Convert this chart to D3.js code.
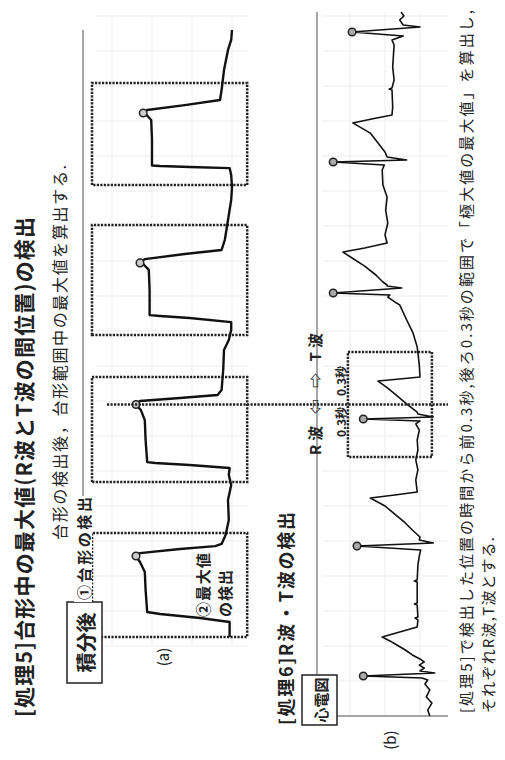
<!DOCTYPE html>
<html>
<head>
<meta charset="utf-8">
<script src="https://cdn.jsdelivr.net/npm/d3@7"></script>
<style>
  body { margin: 0; background: #fff; }
  svg { display: block; }
  text { font-family: "Noto Sans CJK JP", "Noto Sans", sans-serif; fill: #222; }
</style>
</head>
<body>
<svg id="fig" width="505" height="760"></svg>
<script>
// integrated signal (a): [time s, value]
const integData = [
  [0.451,0.03],[0.537,0.03],[0.560,0.40],[0.583,0.90],[0.594,1.06],[0.720,1.08],[0.823,1.09],[0.880,1.15],
  [0.914,1.20],[0.931,1.15],[0.954,0.65],[0.971,0.21],[0.983,0.13],[1.034,0.08],[1.120,0.04],[1.234,0.05],
  [1.320,0.01],[1.377,0.04],[1.417,0.03],[1.434,0.53],[1.446,0.96],[1.451,1.06],[1.577,1.08],[1.691,1.09],
  [1.749,1.14],[1.780,1.20],[1.800,1.15],[1.817,0.65],[1.834,0.18],[1.863,0.13],[1.977,0.11],[2.091,0.10],
  [2.149,0.04],[2.206,0.01],[2.251,0.01],[2.274,0.53],[2.286,0.90],[2.291,1.03],[2.434,1.03],[2.549,1.04],
  [2.583,1.11],[2.589,1.15],[2.611,1.09],[2.640,0.59],[2.663,0.13],[2.720,0.09],[2.834,0.05],[2.949,0.01],
  [3.023,0.00],[3.091,0.01],[3.131,0.03],[3.137,0.53],[3.143,0.90],[3.146,1.00],[3.291,1.00],[3.406,1.01],
  [3.440,1.08],[3.446,1.11],[3.463,1.06],[3.491,0.59],[3.520,0.15],[3.577,0.13],[3.691,0.10],[3.806,0.05],
  [3.863,0.01],[3.920,0.00]
];
const integPeaks = [[0.914,1.20],[1.780,1.20],[2.589,1.15],[3.446,1.11]];
const trapRanges = [[0.451,1.046],[1.337,1.937],[2.177,2.806],[3.034,3.617]];
const trapValueRange = [-0.19, 1.75];

// ECG (b): [time s, mV]
const ecgData = [
  [0.000,-0.14],[0.034,-0.11],[0.074,-0.17],[0.109,-0.09],[0.149,-0.14],[0.183,-0.07],[0.206,-0.11],[0.217,-0.03],
  [0.229,0.81],[0.246,-0.21],[0.257,0.00],
  [0.274,-0.06],[0.291,0.01],[0.309,-0.06],[0.326,0.00],
  [0.349,0.11],[0.377,0.21],[0.406,0.33],[0.429,0.43],[0.451,0.54],[0.480,0.29],[0.509,0.04],
  [0.549,0.03],[0.560,0.07],[0.566,0.03],[0.634,0.04],[0.640,0.08],[0.646,0.04],[0.766,0.04],[0.772,0.08],
  [0.778,0.04],[0.863,0.03],[0.914,0.01],[0.949,-0.01],
  [0.971,0.90],[0.989,-0.19],[1.006,0.01],
  [1.023,0.00],[1.063,0.11],[1.103,0.21],[1.154,0.36],[1.200,0.50],[1.246,0.71],[1.263,0.36],[1.280,0.04],
  [1.349,0.06],[1.406,0.03],[1.463,0.06],[1.520,0.03],[1.577,0.04],[1.634,0.01],[1.669,0.06],[1.686,0.00],
  [1.697,0.81],[1.709,-0.19],[1.726,0.03],
  [1.737,0.04],[1.777,0.17],[1.823,0.31],[1.874,0.46],[1.914,0.60],[1.926,0.29],[1.937,0.00],
  [2.006,0.01],[2.109,0.04],[2.189,0.10],[2.263,0.19],[2.349,0.29],[2.366,0.36],[2.394,0.46],[2.406,0.43],
  [2.417,1.24],[2.446,0.26],[2.457,0.47],
  [2.463,0.47],[2.480,0.53],[2.520,0.63],[2.571,0.79],[2.617,0.97],[2.651,1.10],[2.674,0.79],[2.703,0.47],
  [2.749,0.50],[2.817,0.46],[2.891,0.49],[2.966,0.47],[3.034,0.53],[3.120,0.54],[3.149,0.51],
  [3.166,1.24],[3.177,0.19],[3.194,0.47],
  [3.223,0.50],[3.274,0.60],[3.331,0.71],[3.389,0.96],[3.411,0.69],[3.434,0.40],
  [3.480,0.39],[3.577,0.40],[3.583,0.44],[3.589,0.40],[3.634,0.37],[3.709,0.39],[3.834,0.37],[3.863,0.40],[3.886,0.24],
  [3.909,0.97],[3.937,0.00],[3.949,0.24],
  [3.977,0.29],[4.000,0.23],[4.023,0.27]
];
const rPeaks = [[0.229,0.81],[0.971,0.90],[1.697,0.81],[2.417,1.24],[3.166,1.24],[3.909,0.97]];
const detectTime = 1.78;   // peak of the 2nd trapezoid used for R/T search
const windowSec = 0.3;
const ecgBoxValues = [-0.17, 1.03];

// texts
const titleText = "[処理5]台形中の最大値(R波とT波の間位置)の検出";
const subText = "台形の検出後，台形範囲中の最大値を算出する.";
const title2Text = "[処理6]R波・T波の検出";
const noteLines = ["[処理5]で検出した位置の時間から前0.3秒,後ろ0.3秒の範囲で「極大値の最大値」を算出し,",
                   "それぞれR波,T波とする."];

// layout is drawn unrotated (760 wide, 505 tall) and turned 90deg
const fig = d3.select("#fig");
const root = fig.append("g").attr("transform", "translate(0,760) rotate(-90)");

const xScale = d3.scaleLinear().domain([0, 4]).range([44, 744]);
const yA = d3.scaleLinear().domain([-0.2, 1.8]).range([248, 88]);
const yB = d3.scaleLinear().domain([-0.4, 1.4]).range([448, 322]);

function label(str, u, v, size, weight, len, anchor) {
    let t = root.append("text")
        .attr("x", u).attr("y", v)
        .attr("dominant-baseline", "central")
        .attr("font-size", size)
        .attr("font-weight", weight)
        .attr("text-anchor", anchor || "start")
        .text(str);
    if (len) t.attr("textLength", len).attr("lengthAdjust", "spacing");
    return t;
}

// faint grids
let grid = root.append("g").attr("stroke", "#ededed").attr("stroke-width", 1);
xScale.ticks(20).filter(t => t >= 0.4).forEach(t => {
    grid.append("line").attr("x1", xScale(t)).attr("x2", xScale(t)).attr("y1", yA(1.7)).attr("y2", yA(-0.2));
});
xScale.ticks(20).filter(t => t > 0).forEach(t => {
    grid.append("line").attr("x1", xScale(t)).attr("x2", xScale(t)).attr("y1", yB(1.4)).attr("y2", yB(-0.4));
});
yA.ticks(5).forEach(v => {
    grid.append("line").attr("x1", xScale(0.4)).attr("x2", xScale(4)).attr("y1", yA(v)).attr("y2", yA(v));
});
yB.ticks(4).forEach(v => {
    grid.append("line").attr("x1", xScale(0)).attr("x2", xScale(4.02)).attr("y1", yB(v)).attr("y2", yB(v));
});

// header lines
root.append("line").attr("x1", 158).attr("x2", 730).attr("y1", 83).attr("y2", 83)
    .attr("stroke", "#888").attr("stroke-width", 1.5);
root.append("line").attr("x1", 85).attr("x2", 748).attr("y1", 317).attr("y2", 317)
    .attr("stroke", "#888").attr("stroke-width", 1.5);
root.append("line").attr("x1", xScale(0)).attr("x2", xScale(0)).attr("y1", 337).attr("y2", yB(-0.4))
    .attr("stroke", "#888").attr("stroke-width", 1.5);

// dotted boxes around trapezoids
const dotted = g => g.attr("fill", "none").attr("stroke", "#222").attr("stroke-width", 2.5)
    .attr("stroke-dasharray", "2.2 1.3");
root.append("g").call(dotted).selectAll("rect").data(trapRanges).enter().append("rect")
    .attr("x", d => xScale(d[0]))
    .attr("width", d => xScale(d[1]) - xScale(d[0]))
    .attr("y", yA(trapValueRange[1]))
    .attr("height", yA(trapValueRange[0]) - yA(trapValueRange[1]));

// ECG search window
root.append("rect").call(dotted)
    .attr("x", xScale(detectTime - windowSec))
    .attr("width", xScale(detectTime + windowSec) - xScale(detectTime - windowSec))
    .attr("y", yB(ecgBoxValues[1]))
    .attr("height", yB(ecgBoxValues[0]) - yB(ecgBoxValues[1]));

// traces
root.append("path").datum(integData)
    .attr("fill", "none").attr("stroke", "#111").attr("stroke-width", 2.4)
    .attr("stroke-linejoin", "round")
    .attr("d", d3.line().x(d => xScale(d[0])).y(d => yA(d[1])));
root.append("path").datum(ecgData)
    .attr("fill", "none").attr("stroke", "#111").attr("stroke-width", 1.6)
    .attr("stroke-linejoin", "round")
    .attr("d", d3.line().x(d => xScale(d[0])).y(d => yB(d[1])));

root.selectAll("circle.pa").data(integPeaks).enter().append("circle")
    .attr("class", "pa")
    .attr("cx", d => xScale(d[0])).attr("cy", d => yA(d[1])).attr("r", 3.8)
    .attr("fill", "#ccc").attr("stroke", "#222").attr("stroke-width", 1.5);
root.selectAll("circle.pb").data(rPeaks).enter().append("circle")
    .attr("class", "pb")
    .attr("cx", d => xScale(d[0])).attr("cy", d => yB(d[1])).attr("r", 3.8)
    .attr("fill", "#aaa").attr("stroke", "#222").attr("stroke-width", 1.5);

// detection line through both panels
root.append("line").call(dotted)
    .attr("x1", xScale(detectTime)).attr("x2", xScale(detectTime))
    .attr("y1", 107).attr("y2", yB(-0.4));

// label boxes
root.append("rect").attr("x", 77).attr("y", 67).attr("width", 81).attr("height", 35)
    .attr("fill", "#fff").attr("stroke", "#222").attr("stroke-width", 1.5);
root.append("rect").attr("x", 35).attr("y", 302).attr("width", 50).attr("height", 35)
    .attr("fill", "#fff").attr("stroke", "#222").attr("stroke-width", 1.5);
root.append("rect").attr("x", 158).attr("y", 74).attr("width", 106).attr("height", 18).attr("fill", "#fff");

// texts
label(titleText, 43, 23, 21, "bold", 500);
label(subText, 220, 59, 16, "normal", 375);
label("積分後", 117.5, 85, 20, "bold", null, "middle");
label("①台形の検出", 160, 83, 15, "bold", 103);
label("②最大値", 143, 202, 15, "bold", 64);
label("の検出", 143, 224, 15, "bold", 47);
label("(a)", 103, 162, 15, "normal", null, "middle");
label(title2Text, 35, 285, 18, "bold", 213);
label("心電図", 60, 320, 15, "bold", null, "middle");
label("R波 ⇦ ⇨ T波", 305, 314, 15, "bold", 122);
label("0.3秒", 338, 340, 12, "bold", null, "middle");
label("0.3秒", 379, 340, 12, "bold", null, "middle");
label("(b)", 20, 389, 15, "normal", null, "middle");
label(noteLines[0], 47, 465, 15, "normal", 703);
label(noteLines[1], 47, 487, 15, "normal", 176);
</script>
</body>
</html>
